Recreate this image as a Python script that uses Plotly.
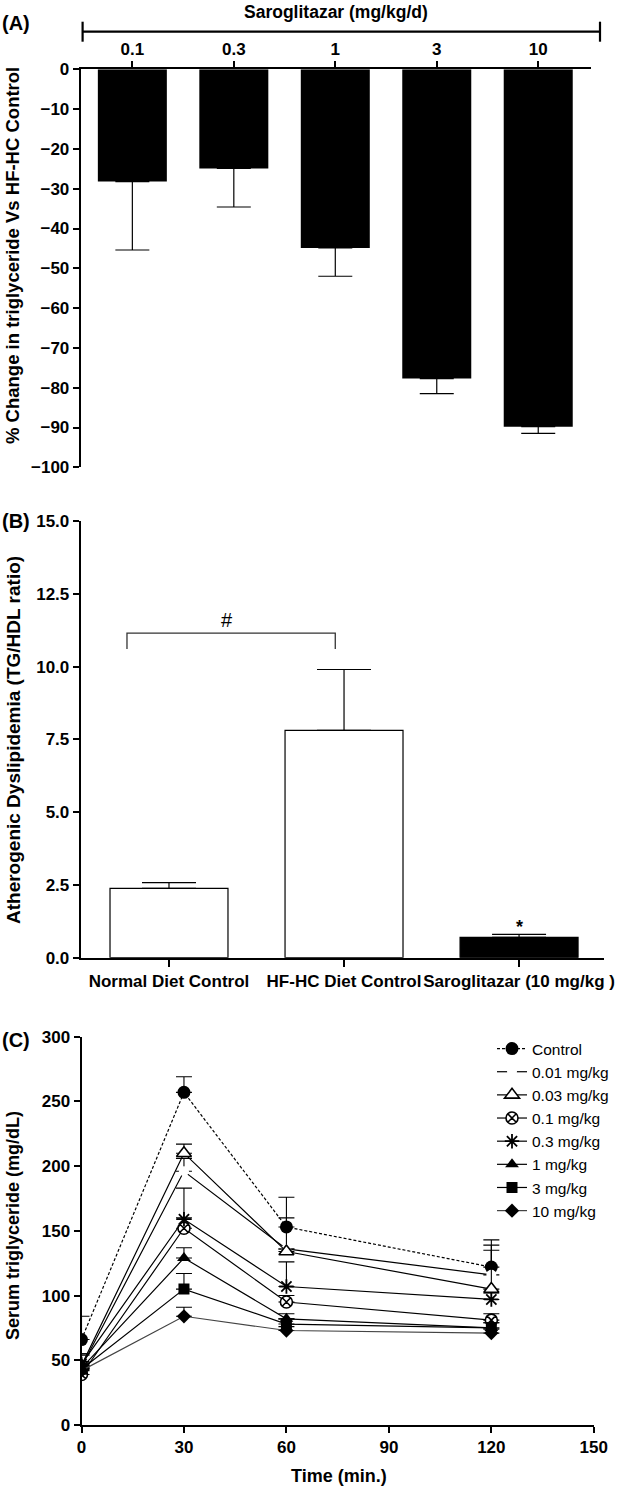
import plotly.graph_objects as go

W, H = 617, 1489
F = "Liberation Sans, Arial, sans-serif"

# ---------------- data ----------------
# Panel A
doses_a = ["0.1", "0.3", "1", "3", "10"]
change_a = [-28.2, -24.9, -44.9, -77.7, -89.8]
err_a = [17.2, 9.7, 7.1, 3.8, 1.7]

# Panel B
groups_b = ["Normal Diet Control", "HF-HC Diet Control", "Saroglitazar (10 mg/kg )"]
ratio_b = [2.38, 7.81, 0.70]
err_b = [0.20, 2.09, 0.10]

# Panel C
time_c = [0, 30, 60, 120]
series_names = ["Control", "0.01 mg/kg", "0.03 mg/kg", "0.1 mg/kg",
                "0.3 mg/kg", "1 mg/kg", "3 mg/kg", "10 mg/kg"]
tg_control = [66, 257, 153, 122]
tg_001 = [45, 196, 136, 116]
tg_003 = [46, 210, 134, 105]
tg_01 = [39, 152, 95, 81]
tg_03 = [47, 159, 107, 97]
tg_1 = [44, 129, 82, 75]
tg_3 = [43, 105, 78, 75]
tg_10 = [42, 84, 73, 71]
err_control = [18, 12, 23, 21]
err_001 = [10, 10, 24, 23]
err_003 = [8, 7, 2, 30]
err_01 = [5, 8, 5, 5]
err_03 = [8, 24, 19, 5]
err_1 = [5, 8, 4, 4]
err_3 = [5, 12, 4, 4]
err_10 = [4, 7, 3, 3]


def fx(px):
    return px / W


def fy(py):
    return 1 - py / H


fig = go.Figure()

# ---------- Panel A ----------
fig.add_trace(go.Bar(
    x=doses_a, y=change_a, width=0.68, xaxis="x", yaxis="y",
    marker=dict(color="black", line=dict(width=0)),
    error_y=dict(type="data", symmetric=False, array=[0] * len(err_a),
                 arrayminus=err_a, color="black", thickness=1.2, width=17),
    showlegend=False,
))

# ---------- Panel B ----------
fig.add_trace(go.Bar(
    x=groups_b, y=ratio_b, width=0.674, xaxis="x2", yaxis="y2",
    marker=dict(color=["white", "white", "black"], line=dict(color="black", width=1.2)),
    error_y=dict(type="data", symmetric=False, array=err_b,
                 arrayminus=[0] * len(err_b), color="black", thickness=1.2, width=27),
    showlegend=False,
))

# ---------- Panel C ----------
c_vals = [tg_control, tg_001, tg_003, tg_01, tg_03, tg_1, tg_3, tg_10]
c_errs = [err_control, err_001, err_003, err_01, err_03, err_1, err_3, err_10]
c_markers = [
    dict(symbol="circle", size=13, color="black"),
    dict(symbol="circle", size=10, color="white", line=dict(width=0)),
    dict(symbol="triangle-up", size=13, color="white", line=dict(color="black", width=1.6)),
    dict(symbol="circle-x", size=12, color="white", line=dict(color="black", width=1.6)),
    dict(symbol="asterisk-open", size=12, color="black", line=dict(color="black", width=1.8)),
    dict(symbol="triangle-up", size=12, color="black"),
    dict(symbol="square", size=11, color="black"),
    dict(symbol="diamond", size=11, color="black"),
]
c_lines = [
    dict(color="black", width=1.2, dash="3px,2px"),
    dict(color="black", width=1.2),
    dict(color="black", width=1.2),
    dict(color="black", width=1.2),
    dict(color="black", width=1.2),
    dict(color="black", width=1.2),
    dict(color="black", width=1.2),
    dict(color="#444444", width=1.2),
]
for name, vals, errs, mk, ln in zip(series_names, c_vals, c_errs, c_markers, c_lines):
    fig.add_trace(go.Scatter(
        x=time_c, y=vals, name=name, mode="lines+markers", xaxis="x3", yaxis="y3",
        marker=mk, line=ln,
        error_y=dict(type="data", symmetric=False, array=errs,
                     arrayminus=[0] * len(errs), color="black", thickness=1.1, width=8),
    ))

tickfont = dict(family=F, size=17, color="black", weight="bold")
axis_common = dict(showline=True, linecolor="black", linewidth=1.8, ticks="outside",
                   tickcolor="black", tickwidth=1.5, showgrid=False, zeroline=False,
                   tickfont=tickfont, fixedrange=True, tickangle=0)

fig.update_layout(
    width=W, height=H, margin=dict(l=0, r=0, t=0, b=0, autoexpand=False),
    paper_bgcolor="white", plot_bgcolor="white",
    font=dict(family=F, color="black"),
    xaxis=dict(domain=[fx(80.6), fx(591)], anchor="y", side="top", type="category",
               range=[-0.51, 4.52], ticklen=6, **axis_common),
    yaxis=dict(domain=[fy(467.3), fy(69.3)], anchor="x", range=[-100, 0],
               tickvals=list(range(-100, 1, 10)), ticklen=6, **axis_common),
    xaxis2=dict(domain=[fx(80.6), fx(603.6)], anchor="y2", type="category",
                range=[-0.505, 2.483], ticklen=7, **axis_common),
    yaxis2=dict(domain=[fy(957.7), fy(521)], anchor="x2", range=[0, 15],
                tickvals=[0, 2.5, 5, 7.5, 10, 12.5, 15], tickformat=".1f",
                ticklen=6, **axis_common),
    xaxis3=dict(domain=[fx(81.5), fx(593.8)], anchor="y3", range=[0, 150],
                tickvals=[0, 30, 60, 90, 120, 150], ticklen=6, **axis_common),
    yaxis3=dict(domain=[fy(1425), fy(1036.7)], anchor="x3", range=[0, 300],
                tickvals=[0, 50, 100, 150, 200, 250, 300], ticklen=6, **axis_common),
    legend=dict(x=fx(492), y=fy(1032), xanchor="left", yanchor="top",
                font=dict(family=F, size=15.5, color="black"),
                bgcolor="rgba(0,0,0,0)", tracegroupgap=0, itemwidth=30),
    showlegend=True,
)

bold = "bold"
ann = [
    # panel labels
    dict(text="(A)", x=fx(0), y=fy(23), xanchor="left", yanchor="middle",
         font=dict(size=20, weight=bold)),
    dict(text="(B)", x=fx(0), y=fy(521), xanchor="left", yanchor="middle",
         font=dict(size=20, weight=bold)),
    dict(text="(C)", x=fx(0), y=fy(1040), xanchor="left", yanchor="middle",
         font=dict(size=20, weight=bold)),
    # Panel A top title
    dict(text="Saroglitazar (mg/kg/d)", x=fx(336), y=fy(12), xanchor="center", yanchor="middle",
         font=dict(size=17.5, weight=bold)),
    # y titles
    dict(text="% Change in triglyceride Vs HF-HC Control", x=fx(12), y=fy(256),
         xanchor="center", yanchor="middle", textangle=-90, font=dict(size=18.5, weight=bold)),
    dict(text="Atherogenic Dyslipidemia (TG/HDL ratio)", x=fx(13), y=fy(740),
         xanchor="center", yanchor="middle", textangle=-90, font=dict(size=19, weight=bold)),
    dict(text="Serum triglyceride (mg/dL)", x=fx(13), y=fy(1226),
         xanchor="center", yanchor="middle", textangle=-90, font=dict(size=18, weight=bold)),
    dict(text="Time (min.)", x=fx(339), y=fy(1476), xanchor="center", yanchor="middle",
         font=dict(size=18, weight=bold)),
    # panel B marks
    dict(text="#", xref="x2", yref="y2", x=0.33, y=11.6, xanchor="center", yanchor="middle",
         showarrow=False, font=dict(size=20)),
    dict(text="*", xref="x2", yref="y2", x=2, y=1.05, xanchor="center", yanchor="middle",
         showarrow=False, font=dict(size=18, weight=bold)),
]
for a in ann:
    a.setdefault("xref", "paper")
    a.setdefault("yref", "paper")
    a.setdefault("showarrow", False)
    a["font"] = dict(family=F, color="black", **a["font"])
fig.update_layout(annotations=ann)

shapes = [
    # bracket above panel A
    dict(type="line", xref="paper", yref="paper", x0=fx(82.6), x1=fx(600), y0=fy(31.7), y1=fy(31.7),
         line=dict(color="black", width=2.2)),
    dict(type="line", xref="paper", yref="paper", x0=fx(82.6), x1=fx(82.6), y0=fy(21.7), y1=fy(41.7),
         line=dict(color="black", width=2.2)),
    dict(type="line", xref="paper", yref="paper", x0=fx(600), x1=fx(600), y0=fy(21.7), y1=fy(41.7),
         line=dict(color="black", width=2.2)),
    # significance bracket in panel B
    dict(type="path", xref="x2", yref="y2",
         path="M -0.24,10.6 L -0.24,11.15 L 0.95,11.15 L 0.95,10.6",
         line=dict(color="#333333", width=1.3)),
]
fig.update_layout(shapes=shapes)

fig.write_html("out.html",
               config={"displayModeBar": False},
               post_script="document.body.style.margin='0px';"
                           "document.documentElement.style.overflow='hidden';")
